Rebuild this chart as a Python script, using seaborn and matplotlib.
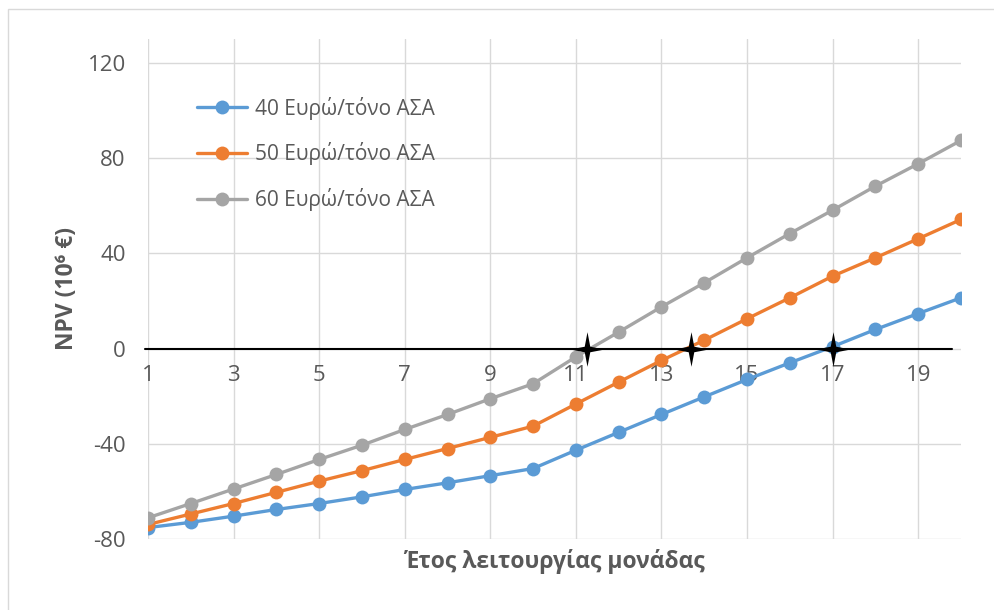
import numpy as np
import pandas as pd
import matplotlib.pyplot as plt
import seaborn as sns
from matplotlib.patches import Rectangle

# έτη λειτουργίας
years = list(range(1, 21))

npv_40 = [-75.2, -73.0, -70.4, -67.6, -65.1, -62.3, -59.2, -56.4, -53.4, -50.4,
          -42.7, -35.2, -27.7, -20.3, -13.0, -6.0, 0.8, 8.0, 14.7, 21.3]
npv_50 = [-73.9, -69.5, -65.1, -60.4, -55.7, -51.3, -46.6, -42.0, -37.3, -32.6,
          -23.3, -14.1, -5.0, 3.5, 12.5, 21.3, 30.4, 38.1, 46.1, 54.2]
npv_60 = [-71.1, -65.1, -59.0, -52.9, -46.6, -40.6, -34.0, -27.7, -21.1, -14.8,
          -3.5, 6.9, 17.5, 27.6, 38.1, 48.3, 58.1, 68.2, 77.6, 87.4]

labels = ['40 Ευρώ/τόνο ΑΣΑ', '50 Ευρώ/τόνο ΑΣΑ', '60 Ευρώ/τόνο ΑΣΑ']
colors = ['#5B9BD5', '#ED7D31', '#A5A5A5']

# σημεία μηδενισμού (αστέρια)
breakeven_x = [11.25, 13.7, 17.0]
breakeven_y = [0, 0, 0]

y_ticks = [-80, -40, 0, 40, 80, 120]
x_ticks = [1, 3, 5, 7, 9, 11, 13, 15, 17, 19]

df = pd.DataFrame({
    'year': years * 3,
    'npv': npv_40 + npv_50 + npv_60,
    'series': [labels[0]] * 20 + [labels[1]] * 20 + [labels[2]] * 20,
})

sns.set_style('white')
plt.rcParams['font.family'] = ['Open Sans', 'DejaVu Sans']
plt.rcParams['axes.unicode_minus'] = False
txt = '#595959'

fig = plt.figure(figsize=(9.94, 6.1), dpi=100)
ax = fig.add_axes([148 / 994, 1 - 539 / 610, (961 - 148) / 994, 500 / 610])

sns.lineplot(data=df, x='year', y='npv', hue='series', palette=colors,
             hue_order=labels, marker='o', markersize=10, markeredgewidth=0,
             linewidth=2.4, ax=ax, legend=False)

ax.set_xlim(1, 20)
ax.set_ylim(-80, 130)
ax.set_xticks(x_ticks)
ax.set_yticks(y_ticks)
ax.grid(True, color='#D9D9D9', lw=1)
ax.set_axisbelow(True)
for s in ax.spines.values():
    s.set_visible(False)
ax.spines['bottom'].set_position(('data', 0))
ax.tick_params(axis='both', length=0, labelsize=16, labelcolor=txt)
ax.tick_params(axis='x', pad=12)
ax.tick_params(axis='y', pad=16)

ax.axhline(0, xmin=-0.004, xmax=0.989, color='black', lw=1.5, clip_on=False, zorder=3)

star = [(0, 1), (0.16, 0.16), (1, 0), (0.16, -0.16), (0, -1), (-0.16, -0.16), (-1, 0), (-0.16, 0.16)]
ax.scatter(breakeven_x, breakeven_y, marker=star, s=620, color='black', zorder=5, linewidths=0)

ax.set_ylabel('NPV (10⁶ €)', fontsize=16.5, fontweight='bold', color=txt)
ax.yaxis.set_label_coords(-0.085, 0.5)
ax.set_xlabel('Έτος λειτουργίας μονάδας', fontsize=16.5, fontweight='bold', color=txt)
ax.xaxis.set_label_coords(0.5, -0.02)

handles = [plt.Line2D([], [], color=c, marker='o', markersize=10, markeredgewidth=0, lw=2.4)
           for c in colors]
leg = ax.legend(handles, labels, loc='upper left', bbox_to_anchor=(0.06, 0.885),
                frameon=False, fontsize=15, labelcolor=txt, borderpad=0, borderaxespad=0,
                handlelength=2.4, handletextpad=0.4, labelspacing=1.1)

fig.patches.append(Rectangle((8 / 994, -0.1), 1.2, 1 - 9 / 610 + 0.1, fill=False,
                             edgecolor='#D9D9D9', lw=1, transform=fig.transFigure))

fig.savefig('out.png', dpi=100)
